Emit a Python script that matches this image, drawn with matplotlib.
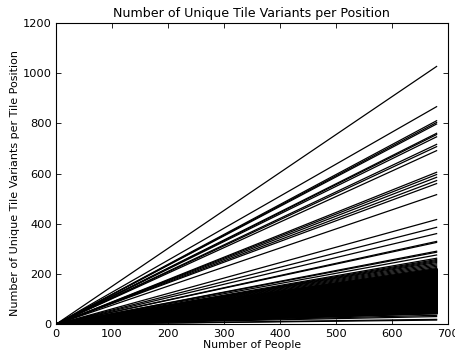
import matplotlib
matplotlib.use('Agg')
import matplotlib.pyplot as plt

# number of people sampled and final unique-variant count for each tile position
people = [0, 680]
top_counts = [1026, 866, 810, 803, 797, 760, 755, 746, 716, 707, 691,
              605, 596, 585, 572, 560, 516, 417, 386, 361, 330, 326,
              291, 287, 276, 263, 258, 254, 250, 246, 241, 236, 231, 226, 222]
block_counts = [218, 216, 214, 212, 210, 208, 206, 204, 202, 200, 198, 196,
                194, 192, 190, 188, 186, 184, 182, 180, 178, 176, 174, 172,
                170, 168, 166, 164, 162, 160, 158, 156, 154, 152, 150, 148,
                146, 144, 142, 140, 138, 136, 134, 132, 130, 128, 126, 124,
                122, 120, 118, 116, 114, 112, 110, 108, 106, 104, 102, 100,
                98, 96, 94, 92, 90, 88, 86, 84, 82, 80, 78, 76, 74, 72, 70,
                68, 66, 64, 62, 60, 58, 56, 54, 52, 50, 48, 46, 44]
low_counts = [36, 31, 20, 17]

plt.rcParams['xtick.direction'] = 'in'
plt.rcParams['ytick.direction'] = 'in'
plt.rcParams['xtick.top'] = True
plt.rcParams['ytick.right'] = True

fig = plt.figure(figsize=(4.56, 3.52), dpi=100)
ax = fig.add_axes([0.1225, 0.0785, 0.8595, 0.857])

for c in top_counts + low_counts:
    ax.plot(people, [0, c], color='black', linewidth=0.9)
for c in block_counts:
    ax.plot(people, [0, c], color='black', linewidth=1.7)

ax.set_xlim(0, 700)
ax.set_ylim(0, 1200)
ax.set_xticks(range(0, 701, 100))
ax.set_yticks(range(0, 1201, 200))
ax.tick_params(labelsize=8.2, length=3.5, width=0.6, pad=3)
for s in ax.spines.values():
    s.set_linewidth(0.8)
ax.set_title('Number of Unique Tile Variants per Position', fontsize=9.1, pad=4)
ax.set_xlabel('Number of People', fontsize=7.8, labelpad=1)
ax.set_ylabel('Number of Unique Tile Variants per Tile Position', fontsize=8.0, labelpad=2)
ax.yaxis.label.set_y(0.47)

fig.savefig('out.png', dpi=100)
